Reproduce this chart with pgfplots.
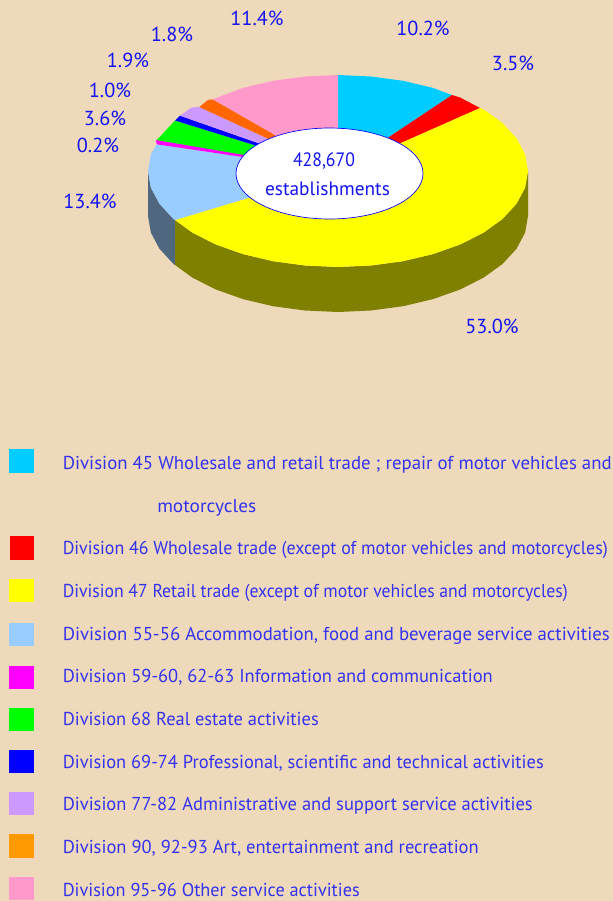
\documentclass[border=0pt]{standalone}
\usepackage{fontspec}
\setmainfont{PT Sans}
\usepackage{graphicx}
\usepackage{pgfplots}
\pgfplotsset{compat=1.18}
\definecolor{bg}{HTML}{EFD9BB}
\definecolor{ink}{HTML}{1414F0}
\definecolor{inkb}{HTML}{3333EE}
\definecolor{c45}{HTML}{00CCFF}
\definecolor{c46}{HTML}{FF0000}
\definecolor{c47}{HTML}{FFFF00}
\definecolor{c55}{HTML}{99CCFF}
\definecolor{c59}{HTML}{FF00FF}
\definecolor{c68}{HTML}{00FF00}
\definecolor{c69}{HTML}{0000FF}
\definecolor{c77}{HTML}{CC99FF}
\definecolor{c90}{HTML}{FF6600}
\definecolor{c90b}{HTML}{FF9900}
\definecolor{c95}{HTML}{FF99CC}
\definecolor{s47}{HTML}{808000}
\definecolor{s55}{HTML}{4F6880}
\tikzset{
  lab/.style={font=\fontsize{15.2}{17}\selectfont, text=ink, inner sep=0pt},
  hole/.style={font=\fontsize{14.5}{17}\selectfont, text=ink, inner sep=0pt},
  leg/.style={font=\fontsize{14}{16}\selectfont, text=inkb, inner sep=0pt, anchor=base west},
}
% legend lines are set to the width they have in the picture (given in pt)
\newcommand{\legline}[2]{\resizebox{#1pt}{\height}{#2}}
\begin{document}
\begin{tikzpicture}
\begin{axis}[
  scale only axis, width=459.75pt, height=675.75pt,
  xmin=0, xmax=613, ymin=0, ymax=901, y dir=reverse,
  hide axis, clip=true,
  every axis plot/.append style={draw=none},
]
\fill[bg] (axis cs:0,0) rectangle (axis cs:613,901);

% side of the pie
\addplot[fill=s55] coordinates {(175,220) (173.5,219) (159.5,203.8) (150.9,187.7) (148,171) (148,216) (150.9,232.7) (159.5,248.8) (173.5,264) (175,265)};
\addplot[fill=s47] coordinates {(175,220) (192.5,232.7) (215.9,244.5) (243,254.1) (273,261.2) (305,265.5) (338,267) (371,265.5) (403,261.2) (433,254.1) (460.1,244.5) (483.5,232.7) (502.5,219) (516.5,203.8) (525.1,187.7) (528,171) (528,216) (525.1,232.7) (516.5,248.8) (502.5,264) (483.5,277.7) (460.1,289.5) (433,299.1) (403,306.2) (371,310.5) (338,312) (305,310.5) (273,306.2) (243,299.1) (215.9,289.5) (192.5,277.7) (175,265)};

% top of the pie, clockwise from twelve o'clock
\addplot[fill=c45] coordinates {(338,171) (338,75) (371,76.5) (403,80.8) (433,87.9) (452,95)};
\addplot[fill=c46] coordinates {(338,171) (452,95) (460.1,97.5) (480,108)};
\addplot[fill=c47] coordinates {(338,171) (480,108) (483.5,109.3) (502.5,123) (516.5,138.2) (525.1,154.3) (528,171) (525.1,187.7) (516.5,203.8) (502.5,219) (483.5,232.7) (460.1,244.5) (433,254.1) (403,261.2) (371,265.5) (338,267) (305,265.5) (273,261.2) (243,254.1) (215.9,244.5) (192.5,232.7) (175,220)};
\addplot[fill=c55] coordinates {(338,171) (175,220) (173.5,219) (159.5,203.8) (150.9,187.7) (148,171) (150.9,154.3) (156.7,144.3)};
\addplot[fill=c59] coordinates {(338,171) (156.7,144.3) (156,140) (338,169)};
\addplot[fill=c68] coordinates {(338,171) (156.5,140) (159,137.7) (175,120.5)};
\addplot[fill=c69] coordinates {(338,171) (175,120.5) (180,115.7)};
\addplot[fill=c77] coordinates {(338,171) (180,115.7) (191.7,107.5) (199.3,107)};
\addplot[fill=c90] coordinates {(338,171) (199.3,107) (208,100) (212.7,99.3)};
\addplot[fill=c95] coordinates {(338,171) (212.7,99.3) (243,87.9) (273,80.8) (305,76.5) (338,75)};

% centre hole
\filldraw[fill=white, draw=c69, line width=0.5pt] (axis cs:329.5,173.5) ellipse [x radius=93.5, y radius=45.5];
\node[hole] at (axis cs:324,161.5) {\resizebox{46.5pt}{\height}{428,670}};
\node[hole] at (axis cs:327.5,189) {establishments};

% slice labels
\node[lab] at (axis cs:257,18) {11.4\%};
\node[lab] at (axis cs:423,28) {10.2\%};
\node[lab] at (axis cs:513,63) {3.5\%};
\node[lab] at (axis cs:172,34) {1.8\%};
\node[lab] at (axis cs:128,60) {1.9\%};
\node[lab] at (axis cs:110,90) {1.0\%};
\node[lab] at (axis cs:105,118) {3.6\%};
\node[lab] at (axis cs:98,145) {0.2\%};
\node[lab] at (axis cs:90,201) {13.4\%};
\node[lab] at (axis cs:492,326) {53.0\%};

% legend keys
\addplot[fill=c45] coordinates {(9,449) (34,449) (34,473) (9,473)};
\addplot[fill=c46] coordinates {(10,536) (34,536) (34,560) (10,560)};
\addplot[fill=c47] coordinates {(9,579) (34,579) (34,602) (9,602)};
\addplot[fill=c55] coordinates {(9,623) (34,623) (34,646) (9,646)};
\addplot[fill=c59] coordinates {(9,666) (34,666) (34,689) (9,689)};
\addplot[fill=c68] coordinates {(9,708) (34,708) (34,731) (9,731)};
\addplot[fill=c69] coordinates {(9,750) (34,750) (34,773) (9,773)};
\addplot[fill=c77] coordinates {(9,792) (34,792) (34,815) (9,815)};
\addplot[fill=c90b] coordinates {(9,834) (34,834) (34,858) (9,858)};
\addplot[fill=c95] coordinates {(9,877) (34,877) (34,900) (9,900)};

% legend text
\node[leg] at (axis cs:62.5,469) {\legline{411.75}{Division 45 Wholesale and retail trade ; repair of motor vehicles and}};
\node[leg] at (axis cs:157,512) {\legline{74.25}{motorcycles}};
\node[leg] at (axis cs:62.5,554) {\legline{408.75}{Division 46 Wholesale trade (except of motor vehicles and motorcycles)}};
\node[leg] at (axis cs:62.5,597) {\legline{378.75}{Division 47 Retail trade (except of motor vehicles and motorcycles)}};
\node[leg] at (axis cs:62.5,640) {\legline{410.25}{Division 55-56 Accommodation, food and beverage service activities}};
\node[leg] at (axis cs:62.5,682) {\legline{322.5}{Division 59-60, 62-63 Information and communication}};
\node[leg] at (axis cs:62.5,725) {\legline{192}{Division 68 Real estate activities}};
\node[leg] at (axis cs:62.5,768) {\legline{360.75}{Division 69-74 Professional, scientific and technical activities}};
\node[leg] at (axis cs:62.5,810) {\legline{352.5}{Division 77-82 Administrative and support service activities}};
\node[leg] at (axis cs:62.5,853) {\legline{312}{Division 90, 92-93 Art, entertainment and recreation}};
\node[leg] at (axis cs:62.5,896) {\legline{222.75}{Division 95-96 Other service activities}};
\end{axis}
\end{tikzpicture}
\end{document}
